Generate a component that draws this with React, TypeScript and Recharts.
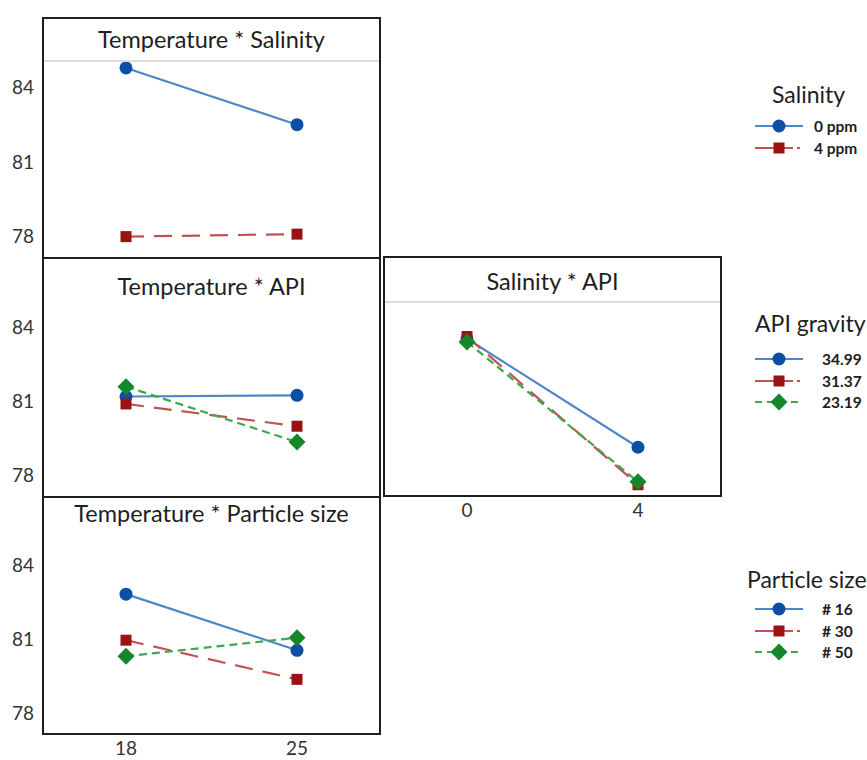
import { LineChart, Line, XAxis, YAxis } from "recharts";

// factor levels
const temperature = ["18", "25"];
const salinity = ["0", "4"];

// Temperature * Salinity
const tsSal0 = [84.78, 82.5];
const tsSal4 = [78.0, 78.1];

// Temperature * API
const taApi3499 = [81.2, 81.25];
const taApi3137 = [80.9, 80.0];
const taApi2319 = [81.6, 79.36];

// Salinity * API
const saApi3499 = [83.56, 79.13];
const saApi3137 = [83.65, 77.6];
const saApi2319 = [83.43, 77.72];

// Temperature * Particle size
const tpSize16 = [82.82, 80.54];
const tpSize30 = [80.95, 79.36];
const tpSize50 = [80.3, 81.05];

const yTicks = [78, 81, 84];
const yDomain: [number, number] = [77.1, 85.1];

const salinityLabels = ["0 ppm", "4 ppm"];
const apiLabels = ["34.99", "31.37", "23.19"];
const sizeLabels = ["# 16", "# 30", "# 50"];

const FONT = "Lato, 'Open Sans', sans-serif";

const STYLES = [
  { stroke: "#4f86c6", fill: "#0b50a6", dash: undefined as string | undefined, shape: "circle" },
  { stroke: "#c45252", fill: "#9a1212", dash: "18 10", shape: "square" },
  { stroke: "#3caa4c", fill: "#15862a", dash: "8 5", shape: "diamond" },
];

function markerEl(shape: string, fill: string, cx: number, cy: number, key?: any) {
  if (shape === "circle") return <circle key={key} cx={cx} cy={cy} r={6.5} fill={fill} />;
  if (shape === "square")
    return <rect key={key} x={cx - 5.5} y={cy - 5.5} width={11} height={11} fill={fill} />;
  return (
    <polygon
      key={key}
      points={`${cx},${cy - 8.5} ${cx + 8.5},${cy} ${cx},${cy + 8.5} ${cx - 8.5},${cy}`}
      fill={fill}
    />
  );
}

type Box = { left: number; top: number; right: number; bottom: number };

function Panel(props: {
  box: Box;
  plotTop: number;
  title: string;
  titleY: number;
  cats: string[];
  series: number[][];
  showY?: boolean;
  showX?: boolean;
  rule?: boolean;
}) {
  const { box, plotTop, title, titleY, cats, series, showY, showX, rule } = props;
  const plotH = box.bottom - plotTop;
  const yW = showY ? 42 : 0;
  const xH = showX ? 30 : 0;
  const data = cats.map((c, i) => {
    const row: any = { cat: c };
    series.forEach((s, j) => (row["s" + j] = s[i]));
    return row;
  });

  return (
    <>
      <div style={{ position: "absolute", left: box.left - yW, top: plotTop }}>
        <LineChart
          width={box.right - box.left + yW}
          height={plotH + xH}
          data={data}
          margin={{ top: 0, right: 0, bottom: 0, left: 0 }}
        >
          <XAxis
            dataKey="cat"
            hide={!showX}
            height={xH}
            padding={{ left: 84, right: 84 }}
            axisLine={false}
            tickLine={false}
            tickSize={0}
            tickMargin={7}
            tick={{ fill: "#333", fontSize: 19, fontFamily: FONT }}
          />
          <YAxis
            type="number"
            hide={!showY}
            width={yW}
            domain={yDomain}
            ticks={yTicks}
            allowDataOverflow
            axisLine={false}
            tickLine={false}
            tickSize={0}
            tickMargin={8}
            tick={{ fill: "#333", fontSize: 19, fontFamily: FONT }}
          />
          {series.map((_, j) => {
            const st = STYLES[j];
            return (
              <Line
                key={j}
                dataKey={"s" + j}
                stroke={st.stroke}
                strokeWidth={2.2}
                strokeDasharray={st.dash}
                isAnimationActive={false}
                dot={(p: any) => markerEl(st.shape, st.fill, p.cx, p.cy, p.key)}
                activeDot={false}
              />
            );
          })}
        </LineChart>
      </div>
      <div
        style={{
          position: "absolute",
          left: box.left,
          top: box.top,
          width: box.right - box.left,
          height: box.bottom - box.top,
          border: "2px solid #1e1e1e",
          boxSizing: "border-box",
        }}
      />
      {rule && (
        <div
          style={{
            position: "absolute",
            left: box.left + 2,
            top: plotTop,
            width: box.right - box.left - 4,
            height: 2,
            background: "#dcdcdc",
          }}
        />
      )}
      <div
        style={{
          position: "absolute",
          left: box.left,
          width: box.right - box.left,
          top: titleY - 14,
          height: 28,
          lineHeight: "28px",
          textAlign: "center",
          fontSize: 23.5,
          fontFamily: FONT,
          color: "#1e1e1e",
          whiteSpace: "nowrap",
        }}
      >
        {title}
      </div>
    </>
  );
}

function LegendBlock(props: {
  title: string;
  titleX: number;
  titleY: number;
  labels: string[];
  itemYs: number[];
  textX: number;
}) {
  const { title, titleX, titleY, labels, itemYs, textX } = props;
  return (
    <>
      <div
        style={{
          position: "absolute",
          left: titleX,
          top: titleY - 14,
          height: 28,
          lineHeight: "28px",
          fontSize: 23,
          fontFamily: FONT,
          color: "#1e1e1e",
          whiteSpace: "nowrap",
        }}
      >
        {title}
      </div>
      {labels.map((lab, i) => {
        const st = STYLES[i];
        const dash = i === 0 ? undefined : i === 1 ? "38 4 3 4" : "7 5";
        return (
          <div key={lab}>
            <svg
              width={50}
              height={18}
              style={{ position: "absolute", left: 754, top: itemYs[i] - 9 }}
            >
              <line
                x1={1}
                y1={9}
                x2={49}
                y2={9}
                stroke={st.stroke}
                strokeWidth={2.2}
                strokeDasharray={dash}
              />
              {markerEl(st.shape, st.fill, 25, 9)}
            </svg>
            <div
              style={{
                position: "absolute",
                left: textX,
                top: itemYs[i] - 10,
                height: 20,
                lineHeight: "20px",
                fontSize: 15.5,
                fontWeight: "bold",
                fontFamily: FONT,
                color: "#1e1e1e",
                whiteSpace: "nowrap",
              }}
            >
              {lab}
            </div>
          </div>
        );
      })}
    </>
  );
}

export default function App() {
  return (
    <div
      style={{
        position: "absolute",
        left: 0,
        top: 0,
        width: 867,
        height: 760,
        background: "#fff",
        overflow: "hidden",
      }}
    >
      <Panel
        box={{ left: 42, top: 17, right: 381, bottom: 259 }}
        plotTop={60}
        title="Temperature * Salinity"
        titleY={39}
        cats={temperature}
        series={[tsSal0, tsSal4]}
        showY
        rule
      />
      <Panel
        box={{ left: 42, top: 257, right: 381, bottom: 498 }}
        plotTop={300}
        title="Temperature * API"
        titleY={286}
        cats={temperature}
        series={[taApi3499, taApi3137, taApi2319]}
        showY
      />
      <Panel
        box={{ left: 42, top: 496, right: 381, bottom: 735 }}
        plotTop={538}
        title="Temperature * Particle size"
        titleY={513}
        cats={temperature}
        series={[tpSize16, tpSize30, tpSize50]}
        showY
        showX
      />
      <Panel
        box={{ left: 383, top: 256, right: 722, bottom: 497 }}
        plotTop={301}
        title="Salinity * API"
        titleY={281}
        cats={salinity}
        series={[saApi3499, saApi3137, saApi2319]}
        showX
        rule
      />
      <LegendBlock
        title="Salinity"
        titleX={772}
        titleY={94}
        labels={salinityLabels}
        itemYs={[126, 148]}
        textX={814}
      />
      <LegendBlock
        title="API gravity"
        titleX={755}
        titleY={323}
        labels={apiLabels}
        itemYs={[359, 381, 402]}
        textX={822}
      />
      <LegendBlock
        title="Particle size"
        titleX={747}
        titleY={579}
        labels={sizeLabels}
        itemYs={[609, 631, 652]}
        textX={822}
      />
    </div>
  );
}
